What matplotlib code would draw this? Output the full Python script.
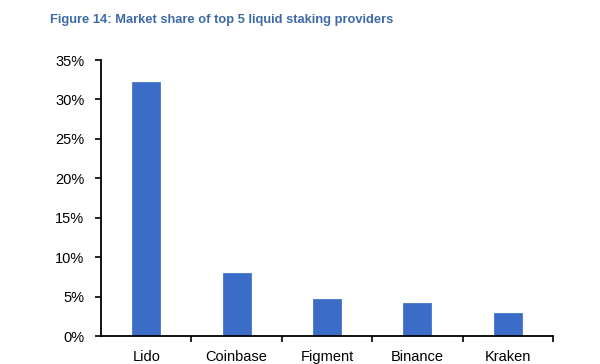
import matplotlib
matplotlib.use("Agg")
import matplotlib.pyplot as plt
from matplotlib.ticker import FixedLocator, FuncFormatter

categories = ["Lido", "Coinbase", "Figment", "Binance", "Kraken"]
shares = [32.2, 8.0, 4.7, 4.2, 2.95]
yticks = [0, 5, 10, 15, 20, 25, 30, 35]

plt.rcParams['font.family'] = ['Liberation Sans', 'DejaVu Sans']
fig = plt.figure(figsize=(6.0, 3.64), dpi=100)
ax = fig.add_axes([101/600, 1-336/364, 452/600, 276/364])

x = list(range(len(categories)))
ax.bar(x, shares, width=0.31, color="#3A6CC8", edgecolor="#3466C0", linewidth=0.5)
ax.set_xlim(-0.5, len(categories) - 0.5)
ax.set_ylim(0, 35)
ax.set_yticks(yticks)
ax.yaxis.set_major_formatter(FuncFormatter(lambda v, p: f"{int(v)}%"))
ax.set_xticks(x)
ax.set_xticklabels(categories)
ax.xaxis.set_minor_locator(FixedLocator([i + 0.5 for i in x]))
ax.tick_params(axis='x', which='major', length=0, pad=10, labelsize=10.5)
ax.tick_params(axis='x', which='minor', length=4, width=1.2, direction='out')
ax.tick_params(axis='y', length=4, width=1.2, direction='out', pad=8, labelsize=10.5)
for s in ['top', 'right']:
    ax.spines[s].set_visible(False)
for s in ['left', 'bottom']:
    ax.spines[s].set_linewidth(1.3)
ax.spines['bottom'].set_zorder(5)

fig.text(50/600, 1-20/364, "Figure 14: Market share of top 5 liquid staking providers",
         fontsize=9.3, fontweight='bold', color="#3D6AA6", ha='left', va='center')

fig.savefig("out.png", dpi=100)
